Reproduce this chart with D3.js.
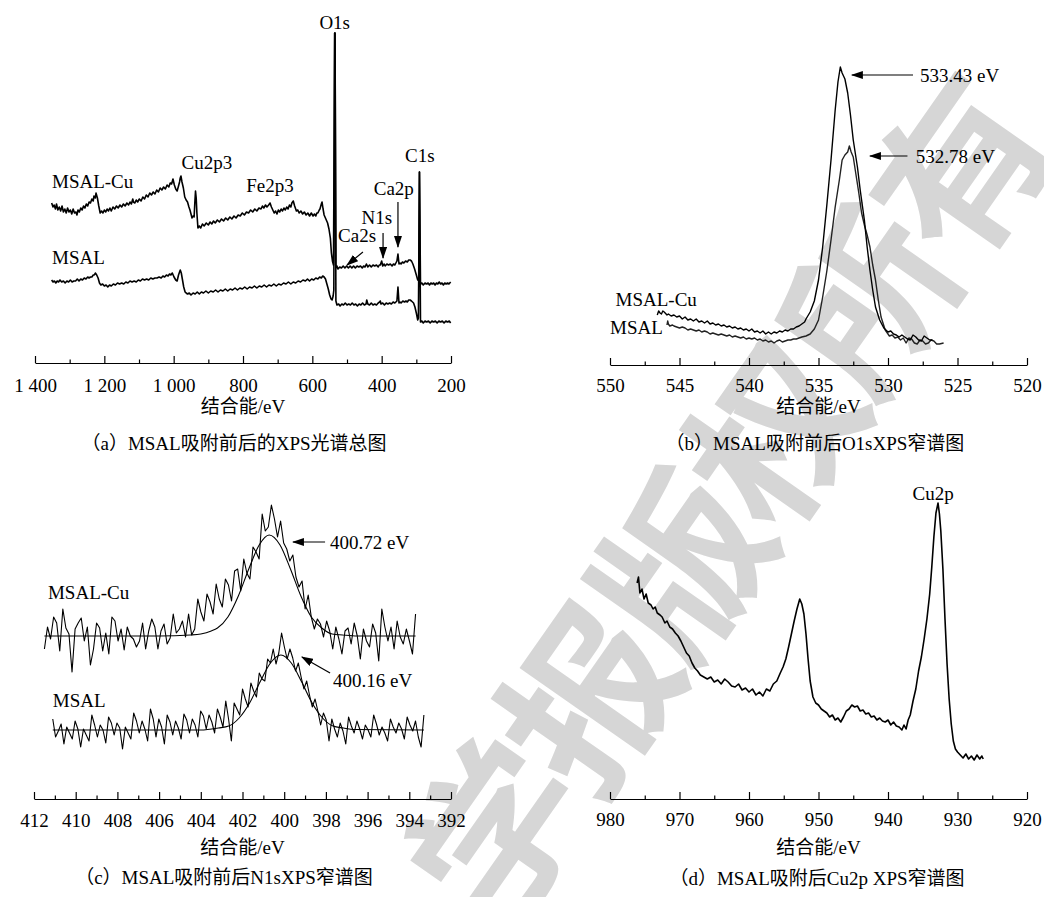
<!DOCTYPE html>
<html><head><meta charset="utf-8">
<script src="https://cdn.jsdelivr.net/npm/d3@7"></script>
<style>
html,body{margin:0;padding:0;background:#fff;}
svg text{font-family:'Liberation Serif','Noto Sans CJK SC',serif;fill:#000;}
</style></head>
<body><svg id="chart" width="1044" height="897"></svg>
<script>
// ---------------- DATA ----------------
// (a) survey spectra: [binding energy eV, intensity a.u.]
const surveyCu = [[1352,160],[1348,156],[1345,158],[1341,154],[1338,159],[1334,153],[1330,156],[1326,152],[1322,157],[1318,151],[1314,154],[1310,150],[1306,155],[1302,151],[1298,153],[1294,149],[1290,154],[1286,150],[1282,151],[1279,148],[1276,153],[1272,151],[1268,155],[1264,153],[1260,157],[1256,155],[1252,159],[1248,157],[1244,161],[1240,160],[1236,164],[1232,162],[1230,167],[1226,165],[1224,170],[1220,165],[1216,157],[1212,150],[1208,152],[1204,150],[1200,153],[1196,151],[1192,154],[1188,152],[1184,155],[1180,152],[1175,156],[1170,154],[1165,157],[1160,155],[1155,158],[1150,156],[1145,159],[1140,157],[1135,160],[1130,158],[1126,161],[1122,159],[1118,164],[1116,161],[1112,160],[1108,163],[1104,161],[1099,164],[1094,162],[1089,166],[1084,164],[1079,168],[1074,166],[1069,170],[1064,168],[1059,171],[1054,169],[1049,173],[1044,171],[1039,175],[1034,173],[1029,176],[1024,174],[1019,178],[1014,176],[1010,180],[1006,179],[1002,184],[998,178],[994,174],[990,172],[986,177],[983,181],[981,185],[979,187],[976,181],[972,175],[968,166],[964,163],[960,161],[956,156],[953,153],[950,149],[947,145],[944,147],[941,146],[939,160],[937,172],[935,165],[933,150],[930,135],[926,137],[922,135],[917,139],[912,137],[906,140],[900,138],[895,141],[890,139],[885,142],[880,140],[874,143],[868,141],[862,144],[856,142],[850,145],[844,143],[838,146],[832,144],[826,147],[820,145],[814,148],[808,147],[802,150],[796,148],[790,151],[784,150],[778,153],[772,151],[766,154],[760,152],[754,155],[748,154],[744,157],[740,155],[735,158],[731,156],[726,158],[722,160],[718,156],[714,153],[710,150],[706,152],[702,149],[698,153],[694,151],[690,154],[686,152],[682,155],[678,153],[674,156],[670,154],[666,158],[662,156],[659,160],[655,162],[651,157],[646,152],[642,153],[638,150],[633,152],[628,149],[623,151],[618,148],[613,150],[608,147],[603,150],[598,147],[594,149],[590,147],[587,150],[584,150],[580,153],[578,154],[574,159],[572,161],[569,154],[566,148],[561,144],[556,140],[552,134],[548,125],[545,110],[542,102],[539,98],[535.5,330],[534.5,330],[532,95],[529,97],[526,94],[521,96],[516,95],[511,97],[506,95],[501,97],[496,95],[491,97],[486,95],[481,97],[476,95],[471,97],[466,96],[461,97],[456,95],[452,97],[448,96],[444,99],[440,96],[435,98],[430,96],[425,98],[420,97],[415,98],[410,96],[407,98],[404,98],[400,102],[397,97],[393,99],[390,97],[385,99],[380,98],[375,99],[370,97],[366,99],[362,98],[359,100],[356,102],[353,109],[350,99],[347,100],[344,99],[340,101],[336,100],[331,102],[326,101],[322,103],[318,103],[314,102],[310,99],[305,94],[300,88],[296,83],[293,85],[291,191],[288,79],[284,80],[280,78],[275,80],[270,79],[266,80],[262,78],[258,80],[254,79],[250,80],[246,78],[242,80],[238,79],[234,81],[230,79],[226,80],[222,78],[218,80],[214,79],[210,80],[206,79],[201,81]];
const surveyMsal = [[1352,83],[1348,81],[1344,82],[1340,80],[1336,82],[1332,81],[1328,83],[1323,81],[1318,82],[1313,80],[1308,82],[1303,81],[1298,83],[1293,81],[1288,82],[1283,82],[1278,84],[1273,82],[1268,84],[1263,83],[1258,85],[1253,84],[1248,86],[1244,85],[1240,86],[1236,86],[1232,88],[1229,88],[1226,90],[1222,88],[1218,85],[1214,80],[1210,78],[1205,79],[1200,77],[1195,78],[1190,76],[1185,78],[1180,77],[1174,79],[1168,78],[1162,80],[1156,79],[1150,80],[1144,79],[1138,81],[1132,80],[1126,82],[1120,81],[1114,82],[1108,81],[1102,83],[1096,82],[1090,84],[1084,83],[1078,84],[1072,83],[1066,85],[1060,84],[1054,85],[1048,85],[1042,86],[1036,85],[1031,87],[1026,86],[1021,88],[1016,87],[1012,89],[1008,88],[1004,90],[999,86],[994,83],[990,82],[986,88],[981,93],[978,90],[975,84],[971,76],[967,71],[964,70],[960,69],[955,70],[950,68],[944,70],[938,69],[932,71],[926,69],[920,71],[914,70],[907,72],[900,70],[893,72],[886,71],[879,73],[872,71],[865,73],[858,72],[851,74],[844,72],[837,74],[830,73],[823,75],[816,73],[809,75],[802,74],[795,76],[788,74],[781,76],[774,75],[767,77],[760,75],[753,77],[746,76],[739,78],[732,76],[725,78],[718,77],[711,79],[704,77],[697,79],[690,78],[683,80],[676,79],[669,81],[662,79],[655,81],[648,80],[641,82],[634,81],[627,83],[620,82],[614,84],[608,82],[602,84],[596,83],[590,85],[584,84],[579,86],[574,85],[570,87],[566,86],[562,84],[558,79],[554,74],[550,68],[546,64],[543,63],[540,67],[538,73],[535.5,330],[534.5,330],[532,62],[529,58],[524,59],[520,57],[515,59],[510,58],[505,60],[500,58],[495,59],[490,58],[485,60],[480,58],[475,59],[470,57],[465,59],[460,58],[455,60],[450,58],[445,59],[443,63],[440,59],[435,58],[430,60],[425,58],[420,59],[415,58],[410,60],[406,61],[404,62],[402,59],[397,60],[392,58],[387,60],[382,59],[377,60],[372,59],[367,61],[362,60],[359,61],[356,62],[353,76],[350,60],[347,61],[344,60],[339,62],[334,61],[330,62],[326,61],[322,63],[318,63],[314,62],[308,60],[304,56],[300,50],[296,43],[294,45],[291,191],[288,41],[284,42],[280,40],[275,42],[270,41],[265,42],[260,40],[255,42],[250,41],[245,42],[240,40],[235,42],[230,41],[225,42],[220,40],[215,42],[210,41],[205,42],[201,40]];

// (b) O1s narrow spectra
const o1sCu = [[546.6,50],[546.5,54],[546.4,52],[546.3,51],[546.2,54],[546.1,53],[545.9,50],[545.8,51],[545.6,49],[545.4,50],[545.2,48],[545,49],[544.8,46],[544.6,48],[544.4,45],[544.2,46],[544,44],[543.8,46],[543.6,43],[543.4,44],[543.2,42],[543,44],[542.8,41],[542.6,42],[542.4,40],[542.2,41],[542,39],[541.8,40],[541.6,38],[541.4,39],[541.2,37],[541,38],[540.8,36],[540.6,37],[540.4,35],[540.2,36],[540,34],[539.8,36],[539.6,33],[539.4,34],[539.2,32],[539,34],[538.8,31],[538.6,33],[538.4,31],[538.2,33],[538,32],[537.8,34],[537.6,33],[537.4,35],[537.2,34],[537,36],[536.8,36],[536.6,38],[536.4,39],[536.2,41],[536,43],[535.9,46],[535.6,53],[535.3,64],[535,85],[534.7,118],[534.4,160],[534.1,205],[533.8,255],[533.6,283],[533.43,298],[533.3,292],[533.1,286],[532.9,272],[532.7,250],[532.5,225],[532.2,198],[532,175],[531.7,145],[531.5,118],[531.3,95],[531.1,75],[530.9,58],[530.6,45],[530.3,37],[530,33],[529.8,34],[529.6,31],[529.4,30],[529.2,28],[529,30],[528.8,28],[528.6,26],[528.4,25],[528.2,30],[528,28],[527.8,25],[527.6,24],[527.4,29],[527.2,27],[527,25],[526.8,25]];
const o1sMsal = [[545.9,40],[545.85,44],[545.8,41],[545.7,39],[545.5,40],[545.4,39],[545.2,38],[545,37],[544.8,38],[544.6,37],[544.4,35],[544.2,36],[544,35],[543.8,34],[543.6,35],[543.4,33],[543.2,34],[543,33],[542.8,31],[542.6,32],[542.4,31],[542.2,30],[542,31],[541.8,30],[541.6,29],[541.4,30],[541.2,28],[541,29],[540.8,28],[540.6,27],[540.4,28],[540.2,26],[540,27],[539.8,26],[539.6,27],[539.4,25],[539.2,26],[539,24],[538.8,25],[538.6,23],[538.4,24],[538.2,22],[538,24],[537.8,25],[537.6,23],[537.4,24],[537.2,25],[537,25],[536.8,26],[536.6,26],[536.4,27],[536.2,28],[535.9,29],[535.6,31],[535.3,36],[535,45],[534.7,68],[534.4,94],[534.1,125],[533.8,158],[533.5,185],[533.3,205],[533.1,210],[532.9,213],[532.78,219],[532.65,213],[532.5,208],[532.3,190],[532.1,172],[531.9,152],[531.7,140],[531.5,130],[531.3,118],[531.1,100],[530.9,85],[530.7,65],[530.5,48],[530.2,35],[529.9,29],[529.7,30],[529.5,27],[529.3,28],[529.1,25],[528.9,27],[528.7,22],[528.5,27],[528.3,26],[528.1,22],[527.9,21],[527.7,25],[527.5,24],[527.3,21],[527.1,22],[526.9,25],[526.7,24],[526.5,21],[526.3,21],[526,22]];

// (c) N1s narrow spectra: raw counts on an evenly spaced energy grid (first/last energy) + fitted envelope
const n1sCuRange = [411.5, 393.7], n1sMsalRange = [411.1, 393.3];
const n1sCuRaw = [150,172,160,182,176,148,190,171,165,127,170,176,181,158,172,134,150,176,171,148,166,145,182,178,158,170,149,172,163,160,152,158,176,150,168,180,172,150,168,175,155,161,185,166,170,178,162,185,164,170,200,187,178,205,197,185,215,200,192,220,214,198,228,230,208,240,226,220,252,247,240,285,268,272,294,280,262,278,256,250,238,244,222,212,218,190,204,182,170,180,175,162,178,168,150,172,160,145,168,171,155,176,163,140,170,158,152,175,166,138,190,172,158,172,150,178,162,155,170,158,145,185];
const n1sMsalRaw = [80,62,68,75,55,72,66,60,78,70,52,70,64,58,84,74,62,74,69,56,82,76,64,76,71,50,72,66,60,86,78,66,78,70,58,90,80,62,80,72,55,84,77,64,78,71,60,85,79,66,80,74,62,88,83,70,84,77,66,90,82,72,98,80,58,96,90,84,110,100,92,116,108,102,126,120,118,140,136,150,135,146,166,152,140,150,141,128,136,122,110,118,104,92,100,88,74,86,79,58,80,70,62,76,68,55,82,73,66,78,70,60,74,69,62,84,75,64,72,66,58,80,72,66,76,70,60,82,74,68,78,62,52,84];
const n1sCuFit = [[411.5,163],[406,163],[404.5,164],[404,165],[403.5,168],[403.2,171],[402.7,182],[402.2,203],[401.7,230],[401.2,254],[400.72,264],[400.2,254],[399.7,230],[399.2,203],[398.7,182],[398.2,171],[397.7,165],[397.2,164],[396.5,163],[393.7,163]];
const n1sMsalFit = [[411.1,69],[404,69],[403.16,71],[402.66,73],[402.16,81],[401.66,96],[401.16,117],[400.66,136],[400.16,144],[399.66,136],[399.16,117],[398.66,96],[398.16,81],[397.66,73],[397.16,71],[396.66,69.5],[393.3,69]];

// (d) Cu2p narrow spectrum
const cu2p = [[976.1,216],[975.9,222],[975.7,206],[975.4,210],[975.1,200],[974.8,205],[974.5,196],[974.1,194],[973.8,190],[973.5,192],[973.2,186],[972.8,184],[972.5,182],[972.1,176],[971.8,178],[971.4,172],[971,170],[970.6,166],[970.2,163],[969.8,158],[969.4,152],[969,146],[968.6,143],[968.2,136],[967.8,131],[967.4,128],[967,124],[966.5,122],[966,120],[965.5,122],[965,117],[964.5,119],[964,115],[963.5,120],[963,117],[962.5,113],[962,112],[961.5,115],[961,109],[960.5,111],[960,107],[959.5,110],[959,104],[958.5,107],[958,103],[957.5,110],[957,108],[956.5,115],[956,118],[955.5,126],[955.1,132],[954.7,140],[954.3,152],[953.9,165],[953.5,178],[953.1,190],[952.7,200],[952.4,195],[952.1,185],[951.8,165],[951.5,140],[951.2,118],[950.8,102],[950.4,96],[950,94],[949.6,90],[949.2,88],[948.8,86],[948.4,82],[948,84],[947.6,79],[947.2,81],[946.8,77],[946.4,82],[946,88],[945.6,90],[945.2,94],[944.8,92],[944.4,93],[944,88],[943.6,89],[943.2,85],[942.8,86],[942.4,82],[942,83],[941.6,79],[941.2,81],[940.8,78],[940.4,77],[940,79],[939.6,74],[939.2,77],[938.8,73],[938.4,72],[938,69],[937.7,74],[937.4,70],[937.1,79],[936.8,84],[936.4,98],[936,110],[935.6,128],[935.2,142],[934.8,160],[934.4,180],[934,205],[933.7,232],[933.4,262],[933.1,286],[932.8,296],[932.6,285],[932.4,268],[932.1,230],[931.8,180],[931.5,135],[931.2,100],[930.9,75],[930.6,58],[930.3,50],[930,47],[929.6,44],[929.2,41],[928.8,45],[928.4,40],[928,43],[927.6,39],[927.2,44],[926.8,40],[926.5,43],[926.3,40]];

// tick values
const ticksA = [1400,1200,1000,800,600,400,200], minorA = [1300,1100,900,700,500,300];
const ticksB = [550,545,540,535,530,525,520], minorB = [547.5,542.5,537.5,532.5,527.5,522.5];
const ticksC = [412,410,408,406,404,402,400,398,396,394,392], minorC = [411,409,407,405,403,401,399,397,395,393];
const ticksD = [980,970,960,950,940,930,920], minorD = [975,965,955,945,935,925];

// texts
const axisTitle = "结合能/eV";
const captions = ["（a）MSAL吸附前后的XPS光谱总图","（b）MSAL吸附前后O1sXPS窄谱图","（c）MSAL吸附前后N1sXPS窄谱图","（d）MSAL吸附后Cu2p XPS窄谱图"];
const watermark = "学报版权所有";
// annotations [text, energy, intensity, anchor]
const labelsA = [["O1s",535.5,341,"middle"],["C1s",290,208,"middle"],["Cu2p3",904,201,"middle"],["Fe2p3",722,178,"middle"],["Ca2p",365,175,"middle"],["N1s",414,146,"middle"],["Ca2s",471,128,"middle"],["MSAL-Cu",1351,182,"start"],["MSAL",1351,106,"start"]];
const arrowsA = [[353,161,353,116],[396,130,396,105],[454,111,500,98]]; // [E0,I0,E1,I1]
const labelsB = [["533.43 eV",527.7,290,"start"],["532.78 eV",528.0,209,"start"],["MSAL-Cu",549.6,66,"start"],["MSAL",550,38,"start"]];
const arrowsB = [[528.2,290,532.6,290],[528.6,209,531.3,209]];
const labelsC = [["400.72 eV",397.8,257,"start"],["400.16 eV",397.66,119,"start"],["MSAL-Cu",411.33,207,"start"],["MSAL",411.1,99,"start"]];
const arrowsC = [[398.04,257,399.58,257],[397.8,126,399.15,142]];
const labelsD = [["Cu2p",933.5,306,"middle"]];

// ---------------- DRAW ----------------
const svg = d3.select("#chart");
const FS = 19;
const SERIF = "'Liberation Serif','Noto Sans CJK SC',serif";

// watermark (light grey, behind the plots)
svg.append("text").attr("transform","translate(730,505) rotate(-55)")
  .attr("text-anchor","middle").attr("dy","0.35em")
  .style("font-family","'Noto Sans CJK SC'").style("font-weight","bold")
  .style("font-size","170px").style("fill","#d6d6d6").style("letter-spacing","-8px")
  .text(watermark);

const defs = svg.append("defs");
defs.append("marker").attr("id","arr").attr("markerUnits","userSpaceOnUse")
  .attr("markerWidth",12).attr("markerHeight",8).attr("refX",11).attr("refY",4).attr("orient","auto")
  .append("path").attr("d","M0,0L12,4L0,8Z").attr("fill","#000");

const fmtA = d3.formatLocale({decimal:".",thousands:" ",grouping:[3],currency:["",""]}).format(",d");

function panel(cfg){
  const x = d3.scaleLinear().domain(cfg.dom).range(cfg.xr);
  const y = d3.scaleLinear().domain([0,350]).range([cfg.ay, cfg.ay-350]);
  const g = svg.append("g");
  const ax = g.append("g").attr("transform",`translate(0,${cfg.ay})`)
    .call(d3.axisBottom(x).tickValues(cfg.ticks).tickSizeInner(-7).tickSizeOuter(0).tickFormat(cfg.fmt));
  ax.attr("font-family",null).attr("font-size",null);
  ax.select(".domain").attr("stroke","#000").attr("stroke-width",1.2);
  ax.selectAll(".tick line").attr("stroke","#000").attr("stroke-width",1.2);
  ax.selectAll(".tick text").attr("y",cfg.tly).attr("dy","0.35em")
    .attr("font-family",SERIF).style("font-family",SERIF).style("font-size",FS+"px");
  const mx = g.append("g").attr("transform",`translate(0,${cfg.ay})`)
    .call(d3.axisBottom(x).tickValues(cfg.minor).tickSize(-3.5).tickFormat(""));
  mx.select(".domain").remove();
  mx.selectAll(".tick line").attr("stroke","#000").attr("stroke-width",1.2);
  g.append("text").attr("x",(cfg.xr[0]+cfg.xr[1])/2).attr("y",cfg.ay+cfg.tty).attr("dy","0.35em")
    .attr("text-anchor","middle").style("font-size",FS+"px").text(axisTitle);
  g.append("text").attr("x",cfg.capx).attr("y",cfg.capy).attr("dy","0.35em")
    .attr("text-anchor","middle").style("font-size",FS+"px").text(cfg.caption);
  return {g,x,y};
}
function lineOf(p, data, w, col, curve){
  p.g.append("path").datum(data).attr("fill","none").attr("stroke",col||"#000").attr("stroke-width",w)
    .attr("stroke-linejoin","round")
    .attr("d", d3.line().x(d=>p.x(d[0])).y(d=>p.y(d[1])).curve(curve||d3.curveLinear));
}
function onGrid(vals, range){
  const step = (range[1]-range[0])/(vals.length-1);
  return vals.map((v,i)=>[range[0]+i*step, v]);
}
function labels(p, arr){
  arr.forEach(l=>p.g.append("text").attr("x",p.x(l[1])).attr("y",p.y(l[2])).attr("dy","0.35em")
    .attr("text-anchor",l[3]).style("font-size",FS+"px").text(l[0]));
}
function arrows(p, arr){
  arr.forEach(a=>p.g.append("line").attr("x1",p.x(a[0])).attr("y1",p.y(a[1])).attr("x2",p.x(a[2])).attr("y2",p.y(a[3]))
    .attr("stroke","#000").attr("stroke-width",1.2).attr("marker-end","url(#arr)"));
}

// (a)
const pa = panel({dom:[1400,200], xr:[35,451], ay:363, ticks:ticksA, minor:minorA, fmt:fmtA, tly:22, tty:43, capx:234, capy:443, caption:captions[0]});
lineOf(pa, surveyMsal, 1.6);
lineOf(pa, surveyCu, 1.6);
labels(pa, labelsA); arrows(pa, arrowsA);

// (b)
const pb = panel({dom:[550,520], xr:[610,1027], ay:365, ticks:ticksB, minor:minorB, fmt:d3.format("d"), tly:20, tty:41, capx:815, capy:443, caption:captions[1]});
lineOf(pb, o1sMsal, 1.4, "#222");
lineOf(pb, o1sCu, 1.4);
labels(pb, labelsB); arrows(pb, arrowsB);

// (c)
const pc = panel({dom:[412,392], xr:[34,451], ay:799, ticks:ticksC, minor:minorC, fmt:d3.format("d"), tly:21, tty:48, capx:224, capy:877, caption:captions[2]});
lineOf(pc, onGrid(n1sCuRaw, n1sCuRange), 1.1);
lineOf(pc, onGrid(n1sMsalRaw, n1sMsalRange), 1.1);
lineOf(pc, n1sCuFit, 1.1, "#000", d3.curveMonotoneX);
lineOf(pc, n1sMsalFit, 1.1, "#000", d3.curveMonotoneX);
labels(pc, labelsC); arrows(pc, arrowsC);

// (d)
const pd = panel({dom:[980,920], xr:[610,1027], ay:799, ticks:ticksD, minor:minorD, fmt:d3.format("d"), tly:20, tty:48, capx:817, capy:878, caption:captions[3]});
lineOf(pd, cu2p, 1.6);
labels(pd, labelsD);
</script>
</body></html>
